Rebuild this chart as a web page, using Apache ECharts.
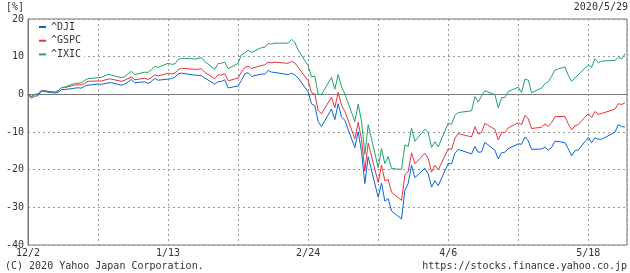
<!DOCTYPE html>
<html><head><meta charset="utf-8">
<script src="https://cdn.jsdelivr.net/npm/echarts@6/dist/echarts.min.js"></script>
<style>html,body{margin:0;padding:0;background:#fff}#c{width:630px;height:273px}</style>
</head><body><div id="c"></div>
<script>
// Trading days (M/D); December is 2019, the rest 2020
const dates = [
'12/2','12/3','12/4','12/5','12/6','12/9','12/10','12/11','12/12','12/13','12/16','12/17','12/18','12/19','12/20','12/23','12/24','12/26','12/27','12/30','12/31',
'1/2','1/3','1/6','1/7','1/8','1/9','1/10','1/13','1/14','1/15','1/16','1/17','1/21','1/22','1/23','1/24','1/27','1/28','1/29','1/30','1/31',
'2/3','2/4','2/5','2/6','2/7','2/10','2/11','2/12','2/13','2/14','2/18','2/19','2/20','2/21','2/24','2/25','2/26','2/27','2/28',
'3/2','3/3','3/4','3/5','3/6','3/9','3/10','3/11','3/12','3/13','3/16','3/17','3/18','3/19','3/20','3/23','3/24','3/25','3/26','3/27','3/30','3/31',
'4/1','4/2','4/3','4/6','4/7','4/8','4/9','4/13','4/14','4/15','4/16','4/17','4/20','4/21','4/22','4/23','4/24','4/27','4/28','4/29','4/30',
'5/1','5/4','5/5','5/6','5/7','5/8','5/11','5/12','5/13','5/14','5/15','5/18','5/19','5/20','5/21','5/22','5/26','5/27','5/28','5/29'];

// % change since 12/2
const dji = [
0,-1.01,-0.48,-0.38,0.84,0.45,0.35,0.46,1.26,1.27,1.63,1.74,1.64,2.14,2.42,2.77,2.64,3.02,3.10,2.44,2.72,
3.91,3.07,3.31,2.88,3.46,4.23,3.75,4.05,4.16,4.49,5.45,5.63,5.09,5.05,4.96,4.34,2.71,3.38,3.42,3.87,1.70,
2.22,3.69,5.43,5.75,4.75,5.38,5.37,6.36,5.90,5.81,5.22,5.63,5.17,4.35,0.64,-2.53,-2.97,-7.26,-8.54,
-3.89,-6.71,-2.49,-5.98,-6.90,-14.15,-9.95,-15.22,-23.69,-16.55,-27.33,-23.56,-28.38,-27.70,-30.99,-33.08,-25.48,-23.69,-18.83,-22.12,-19.64,-21.11,
-24.62,-22.93,-24.23,-18.37,-18.46,-15.65,-14.63,-15.81,-13.80,-15.40,-15.28,-12.74,-14.87,-17.15,-15.50,-15.36,-14.43,-13.14,-13.25,-11.33,-12.37,
-14.61,-14.52,-14.04,-14.82,-14.06,-12.42,-12.82,-14.46,-16.32,-14.96,-14.75,-11.47,-12.87,-11.54,-11.91,-11.94,-10.04,-8.04,-8.58,-8.64];

const gspc = [
0,-0.66,-0.04,0.11,1.03,0.71,0.60,0.89,1.76,1.76,2.49,2.53,2.48,2.94,3.45,3.54,3.52,4.05,4.05,3.45,3.75,
4.62,3.89,4.25,3.96,4.47,5.16,4.86,5.60,5.44,5.63,6.52,6.93,6.65,6.68,6.80,5.83,4.17,5.21,5.12,5.45,3.59,
4.34,5.90,7.09,7.45,6.87,7.65,7.83,8.53,8.35,8.55,8.23,8.74,8.33,7.19,3.60,0.46,0.08,-4.34,-5.13,
-0.76,-3.55,0.52,-2.89,-4.54,-11.80,-7.44,-11.96,-20.34,-12.94,-23.37,-18.78,-22.99,-22.62,-25.98,-28.15,-21.41,-20.50,-15.54,-18.38,-15.65,-17.00,
-20.66,-18.85,-20.08,-14.46,-14.59,-11.69,-10.41,-11.31,-8.60,-10.61,-10.09,-7.69,-9.34,-12.12,-10.10,-10.15,-8.90,-7.56,-8.04,-5.60,-6.47,
-9.09,-8.71,-7.88,-8.52,-7.47,-5.91,-5.89,-7.83,-9.44,-8.39,-8.03,-5.14,-6.13,-4.57,-5.31,-5.09,-3.92,-2.50,-2.70,-2.23];

const ixic = [
0,-0.55,-0.02,0.03,1.03,0.63,0.56,1.00,1.74,1.95,2.87,2.98,3.03,3.73,4.17,4.41,4.49,5.30,5.12,4.41,4.72,
6.12,5.28,5.88,5.84,6.55,7.42,7.13,8.24,7.98,8.06,9.21,9.58,9.37,9.52,9.74,8.72,6.67,8.19,8.25,8.53,6.80,
8.23,10.50,10.98,11.72,11.12,12.38,12.50,13.51,13.35,13.58,13.59,14.58,13.81,11.77,7.62,4.64,4.82,-0.02,-0.01,
4.48,1.36,5.25,1.99,0.09,-7.20,-2.61,-7.19,-15.95,-8.09,-19.41,-14.39,-18.42,-16.54,-19.71,-19.93,-13.42,-13.82,-8.99,-12.44,-9.27,-10.13,
-14.09,-12.61,-13.95,-7.64,-7.95,-5.57,-4.84,-4.38,-0.61,-2.04,-0.42,0.96,-0.08,-3.56,-0.85,-0.85,0.78,1.89,0.46,4.05,3.75,
0.43,1.67,2.81,3.34,4.80,6.46,7.29,5.07,3.45,4.39,5.21,7.78,7.20,9.43,8.37,8.83,9.01,9.86,9.35,10.76];

const seriesNames = ['^DJI', '^GSPC', '^IXIC'];
const xTickLabels = ['12/2', '1/13', '2/24', '4/6', '5/18'];
const unitLabel = '[%]';
const dateLabel = '2020/5/29';
const copyright = '(C) 2020 Yahoo Japan Corporation.';
const urlLabel = 'https://stocks.finance.yahoo.co.jp';

function dayOf(md) {
  const p = md.split('/').map(Number);
  const y = p[0] === 12 ? 2019 : 2020;
  return Math.round((Date.UTC(y, p[0] - 1, p[1]) - Date.UTC(2019, 11, 2)) / 86400000);
}
const labelMap = {};
xTickLabels.forEach(l => { labelMap[dayOf(l)] = l; });

const FONT = '"DejaVu Sans Mono", "Liberation Mono", monospace';
const colors = ['#0a64dc', '#e8323c', '#1ea464'];
const vals = [dji, gspc, ixic];

const chart = echarts.init(document.getElementById('c'), null, {renderer: 'canvas'});
chart.setOption({
  animation: false,
  backgroundColor: '#fff',
  grid: {left: 28, right: 2, top: 19, bottom: 28, show: true, borderColor: '#777', borderWidth: 1},
  legend: {
    orient: 'vertical', left: 29, top: 20, padding: [2, 3, 4, 10],
    backgroundColor: '#fff', itemWidth: 7, itemHeight: 2, icon: 'rect', itemGap: 3.7,
    textStyle: {fontFamily: FONT, fontSize: 10, color: '#333', lineHeight: 10},
    data: seriesNames
  },
  xAxis: {
    type: 'value', min: 0, max: 179.6, interval: 21,
    axisLine: {show: true, lineStyle: {color: '#777'}},
    axisTick: {show: false},
    splitLine: {show: true, lineStyle: {color: '#999', type: [2, 3], width: 1}},
    axisLabel: {
      margin: 3, color: '#333', fontFamily: FONT, fontSize: 10, hideOverlap: false,
      showMinLabel: true, showMaxLabel: true,
      formatter: v => labelMap[Math.round(v)] || ''
    }
  },
  yAxis: {
    type: 'value', min: -40, max: 20, interval: 10,
    axisLine: {show: true, lineStyle: {color: '#777'}},
    axisTick: {show: false},
    splitLine: {show: true, lineStyle: {color: '#999', type: [2, 3], width: 1}},
    axisLabel: {margin: 4, color: '#333', fontFamily: FONT, fontSize: 10}
  },
  graphic: [
    {type: 'text', left: 6, top: 2, style: {text: unitLabel, font: '10px ' + FONT, fill: '#333'}},
    {type: 'text', right: 2, top: 2, style: {text: dateLabel, font: '10px ' + FONT, fill: '#333'}},
    {type: 'text', left: 5, top: 261, style: {text: copyright, font: '10px ' + FONT, fill: '#333'}},
    {type: 'text', right: 3, top: 261, style: {text: urlLabel, font: '10px ' + FONT, fill: '#333'}}
  ],
  series: seriesNames.map((n, i) => ({
    name: n, type: 'line', showSymbol: false, symbol: 'none',
    color: colors[i],
    lineStyle: {width: 1, color: colors[i]},
    data: dates.map((d, j) => [dayOf(d), vals[i][j]])
  }))
});
</script>
</body></html>
